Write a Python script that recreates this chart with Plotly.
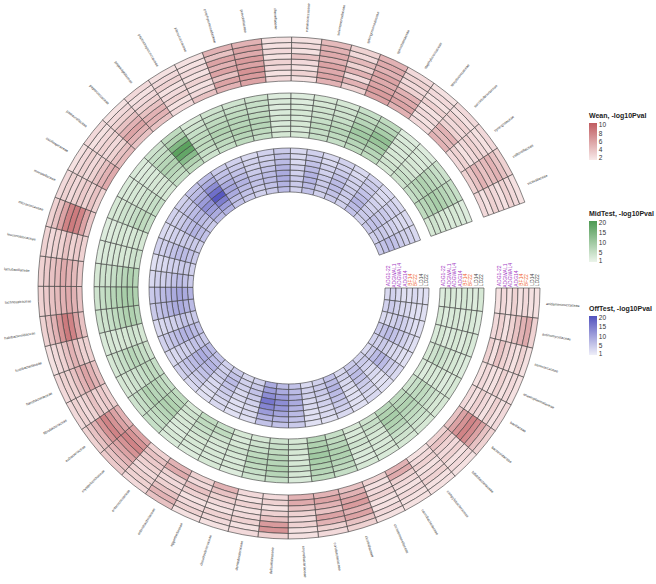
import math
import plotly.graph_objects as go

# ---------------- data ----------------
families = [
    "acidaminococcaceae", "actinomycetaceae", "aerococcaceae", "anaeroplasmataceae",
    "bacillaceae", "bacteroidaceae", "bifidobacteriaceae", "campylobacteraceae",
    "carnobacteriaceae", "christensenellaceae", "clostridiaceae", "coriobacteriaceae",
    "corynebacteriaceae", "defluviitaleaceae", "dermabacteraceae", "desulfovibrionaceae",
    "eggerthellaceae", "enterobacteriaceae", "enterococcaceae", "erysipelotrichaceae",
    "eubacteriaceae", "fibrobacteraceae", "flavobacteriaceae", "fusobacteriaceae",
    "halobacteroidaceae", "lachnospiraceae", "lactobacillaceae", "leuconostocaceae",
    "micrococcaceae", "moraxellaceae", "oscillospiraceae", "pasteurellaceae",
    "peptococcaceae", "peptoniphilaceae", "peptostreptococcaceae", "planococcaceae",
    "porphyromonadaceae", "prevotellaceae", "rikenellaceae", "ruminococcaceae",
    "selenomonadaceae", "sphingomonadaceae", "spirochaetaceae", "staphylococcaceae",
    "streptococcaceae", "succinivibrionaceae", "synergistaceae", "veillonellaceae",
    "victivallaceae",
]

# heatmap columns (ring rows), inner -> outer
traits = ["ADG1-22", "ADGWAL1", "ADGWAL4", "ADG14", "BF14", "BF22", "LD14", "LD22"]
trait_colors = ["#A43CC4", "#A43CC4", "#A43CC4", "#A43CC4",
                "#F0602A", "#F0602A", "#444444", "#444444"]

# -log10 P values, one list per family (inner -> outer)
wean = [
    [2, 2.5, 2, 3, 2, 2.5, 2, 2], [2.5, 3, 2, 3, 4, 5, 5.5, 3], [3, 2, 4, 3, 2.5, 2, 3, 2],
    [2, 2.5, 2, 2, 3, 2, 2.5, 2], [2.5, 2, 3, 2.5, 2, 3, 2, 2.5], [4, 6, 7, 8, 7.5, 6, 4, 3],
    [3, 4, 3, 2.5, 3, 2, 2.5, 2], [2, 2.5, 3, 2, 2.5, 3, 2, 2], [5, 5.5, 3, 2.5, 2, 2.5, 2, 2],
    [3, 2, 2.5, 3, 2, 2, 2.5, 2], [4, 5, 6, 6.5, 5, 6, 4, 3], [5, 6, 5, 4, 6, 5, 3, 2.5],
    [5, 5.5, 4, 3, 2.5, 3, 2, 2], [2.5, 3, 2, 3, 4, 6.5, 7, 3], [2.5, 2, 3, 2, 2.5, 3, 2, 2.5],
    [5, 4, 3, 2.5, 2, 3, 2.5, 2], [3, 2.5, 4, 3, 2, 2.5, 3, 2], [5, 5.5, 3, 2.5, 3, 4, 5, 4],
    [3, 4, 3.5, 3, 2.5, 3, 3, 2.5], [6, 7, 8, 7, 6, 5, 4, 3.5], [5, 6, 7, 8, 7, 5, 4, 3],
    [3, 3.5, 3, 4, 3, 2.5, 3, 2.5], [4, 5, 6, 5, 4, 3, 3, 2.5], [3, 3, 4, 5, 4, 3, 2.5, 2],
    [4, 6, 8, 8.5, 7, 5, 4, 3], [4, 5, 5.5, 5, 4.5, 4, 3.5, 3], [3.5, 4.5, 5, 5.5, 4.5, 4, 3.5, 3],
    [3, 3.5, 3, 4, 3, 3, 2.5, 3], [3.5, 6, 8, 8.5, 8, 6, 4, 3], [3, 4, 3, 3.5, 3, 2.5, 3, 2.5],
    [5.5, 5, 4, 3, 2.5, 3, 2.5, 2], [4.5, 4, 3, 2.5, 3, 2.5, 2, 2.5], [4, 5, 6, 5, 4, 3, 2.5, 2],
    [4, 5, 5, 4, 3, 2.5, 2, 2.5], [2.5, 2, 3, 2.5, 2, 3, 2.5, 2], [4, 2.5, 2, 3, 2, 2.5, 2, 2],
    [5, 6, 4, 6, 5, 6, 4, 5], [6, 6.5, 7, 6, 6.5, 5.5, 6, 5], [2.5, 2, 2.5, 3, 2, 2.5, 2, 2],
    [2, 3, 2, 2.5, 4, 2, 2.5, 2], [5, 6, 5.5, 6, 5, 5.5, 5, 4.5], [3, 5, 2.5, 5, 3, 4.5, 2.5, 3],
    [6, 6.5, 6, 5.5, 6, 5, 5.5, 5], [5, 6, 5.5, 5, 3, 2.5, 3, 2.5], [2.5, 2, 2.5, 2, 3, 2, 2.5, 2],
    [5, 4.5, 5, 3, 2.5, 3, 2, 2.5], [2.5, 3, 2, 2.5, 3, 2.5, 2, 2.5], [3, 4, 5, 4, 4.5, 5, 4, 3],
    [2.5, 2, 3, 2.5, 2, 3, 2.5, 2],
]

midtest = [
    [2, 3, 2.5, 2, 3, 2.5, 2, 3], [3, 2, 2.5, 3, 2, 3, 2.5, 2], [2.5, 3, 2, 2.5, 3, 2, 3, 2.5],
    [3, 4, 5, 4, 3, 3, 2.5, 2], [2.5, 2, 3, 2.5, 3, 2, 2.5, 3], [4, 5, 6, 6, 5, 4, 3, 3],
    [6, 7, 8, 7, 6, 5, 4, 3], [7, 8, 9, 8, 7, 5, 4, 3], [4, 5, 4, 3, 3, 2.5, 3, 2.5],
    [3, 2.5, 3, 4, 3, 2.5, 2, 3], [5, 6, 7, 8, 8, 7, 6, 5], [7, 8, 9, 10, 9, 8, 7, 6],
    [3, 4, 3, 2.5, 3, 4, 3, 2.5], [4, 5, 6, 7, 7, 8, 7, 5], [3, 4, 5, 6, 7, 6, 5, 4],
    [3, 2.5, 3, 4, 3, 2.5, 3, 2], [5, 6, 4, 3, 2.5, 3, 2.5, 3], [6, 6, 5, 4, 3, 3, 2.5, 2],
    [3, 4, 3, 3, 2.5, 2, 3, 2.5], [6, 7, 8, 8, 7, 6, 5, 5], [5, 6, 7, 7, 8, 6, 5, 4],
    [5, 6, 6, 5, 4, 4, 3, 3], [4, 5, 6, 7, 6, 5, 4, 3], [3, 3.5, 4, 3, 3, 2.5, 3, 2.5],
    [7, 8, 8, 7, 6, 5, 4, 4], [8, 9, 9, 8, 7, 6, 5, 4], [7, 8, 7, 6, 5, 4, 4, 3],
    [4, 4, 3, 3, 3, 2.5, 2.5, 2], [3, 3.5, 3, 2.5, 3, 2.5, 2, 2], [5, 6, 6, 5, 4, 4, 3, 3],
    [5, 5, 4, 4, 3, 3, 2.5, 2.5], [3, 3.5, 3, 3, 2.5, 2.5, 2, 2.5], [5, 6, 7, 8, 7, 6, 5, 4],
    [6, 8, 13, 18, 19, 14, 8, 6], [4, 5, 6, 6, 6, 5, 4, 3], [5, 6, 7, 8, 7, 6, 5, 4],
    [6, 7, 8, 7, 7, 6, 5, 4], [5, 6, 7, 7, 6, 5, 5, 4], [3, 3, 2.5, 3, 2.5, 2, 2.5, 2],
    [3, 2.5, 3, 2.5, 3, 2.5, 2, 2], [5, 5, 6, 5, 4, 4, 3, 3], [5, 6, 7, 6, 5, 4, 4, 3],
    [6, 7, 9, 10, 9, 7, 6, 5], [6, 7, 9, 11, 12, 9, 7, 6], [3, 4, 3, 3, 2.5, 3, 2.5, 2],
    [4, 5, 4, 3, 3, 2.5, 2.5, 2], [5, 6, 7, 8, 7, 6, 5, 4], [6, 7, 8, 9, 8, 7, 6, 5],
    [3, 4, 3, 3, 2.5, 3, 2.5, 2],
]

offtest = [
    [3, 4, 3, 2, 2, 3, 2, 2], [4, 5, 4, 3, 3, 2, 2, 2], [3, 3, 4, 5, 4, 3, 2, 2],
    [5, 6, 7, 6, 5, 4, 3, 2], [4, 4, 5, 4, 3, 3, 2, 2], [3, 5, 7, 8, 7, 5, 4, 3],
    [4, 5, 4, 3, 3, 2, 2, 2], [5, 6, 7, 6, 5, 4, 3, 3], [3, 4, 3, 3, 2, 2, 2, 2],
    [6, 7, 8, 7, 6, 5, 4, 3], [4, 5, 5, 4, 4, 3, 3, 2], [3, 4, 4, 3, 3, 2, 2, 2],
    [6, 7, 8, 9, 8, 7, 6, 5], [7, 9, 11, 13, 12, 10, 8, 6], [9, 11, 13, 16, 14, 11, 8, 6],
    [4, 5, 6, 5, 4, 3, 3, 2], [3, 4, 4, 3, 3, 2, 2, 2], [5, 6, 7, 6, 5, 4, 3, 3],
    [4, 4, 5, 4, 3, 3, 2, 2], [6, 7, 8, 7, 6, 5, 4, 3], [7, 8, 9, 8, 7, 6, 5, 4],
    [5, 6, 6, 5, 4, 4, 3, 3], [6, 7, 8, 8, 7, 6, 5, 4], [5, 5, 6, 5, 4, 4, 3, 3],
    [7, 8, 9, 9, 8, 7, 6, 5], [8, 9, 10, 9, 8, 7, 6, 5], [5, 6, 7, 6, 5, 4, 4, 3],
    [4, 5, 5, 4, 4, 3, 3, 2], [5, 6, 7, 7, 6, 5, 4, 4], [4, 5, 5, 5, 4, 4, 3, 3],
    [6, 7, 8, 7, 6, 5, 4, 4], [5, 6, 7, 8, 7, 6, 5, 4], [7, 9, 11, 13, 11, 9, 7, 6],
    [8, 11, 15, 20, 17, 13, 9, 7], [6, 7, 9, 10, 9, 7, 6, 5], [5, 6, 7, 8, 7, 6, 5, 4],
    [4, 5, 6, 6, 5, 4, 4, 3], [5, 6, 7, 7, 6, 5, 4, 4], [7, 8, 9, 9, 8, 7, 6, 5],
    [4, 5, 5, 4, 4, 3, 3, 3], [6, 7, 8, 8, 7, 6, 5, 4], [4, 5, 5, 5, 4, 4, 3, 3],
    [5, 6, 7, 7, 6, 5, 4, 4], [4, 4, 5, 5, 4, 4, 3, 3], [6, 7, 8, 7, 6, 5, 5, 4],
    [4, 5, 5, 4, 4, 3, 3, 3], [5, 6, 6, 5, 5, 4, 4, 3], [4, 5, 5, 4, 4, 3, 3, 3],
    [5, 6, 7, 6, 5, 4, 4, 3],
]

# legend ticks
wean_ticks = [2, 4, 6, 8, 10]
test_ticks = [1, 5, 10, 15, 20]

# ---------------- layout geometry ----------------
W_PX, H_PX = 656, 584
CX, CY, S = 289, 288, 288          # polar centre (px) and half size of the square domain
N = len(families)
GAP = 20.0
STEP = (360.0 - GAP) / N
NT = len(traits)

rings = [
    dict(name="Wean, -log10Pval", vals=wean, r0=207, r1=251,
         scale=[[0, "#F8E9E9"], [1, "#C05C60"]], cmin=1.5, cmax=10.5,
         ticks=wean_ticks, top=120, length=40),
    dict(name="MidTest, -log10Pval", vals=midtest, r0=151, r1=195,
         scale=[[0, "#EBF4EA"], [1, "#4E9A52"]], cmin=0.2, cmax=20.8,
         ticks=test_ticks, top=218, length=44),
    dict(name="OffTest, -log10Pval", vals=offtest, r0=96, r1=140,
         scale=[[0, "#EEEEF8"], [1, "#5252BE"]], cmin=0.2, cmax=20.8,
         ticks=test_ticks, top=313, length=42),
]

fig = go.Figure()
dom_x = [(CX - S) / W_PX, (CX + S) / W_PX]
dom_y = [1 - (CY + S) / H_PX, 1 - (CY - S) / H_PX]

for ring in rings:
    rh = (ring["r1"] - ring["r0"]) / NT
    th, base, rr, col = [], [], [], []
    for i, row in enumerate(ring["vals"]):
        for j, v in enumerate(row):
            th.append((i + 0.5) * STEP)
            base.append(ring["r0"] + j * rh)
            rr.append(rh)
            col.append(v)
    fig.add_trace(go.Barpolar(
        theta=th, r=rr, base=base, width=[STEP] * len(th),
        marker=dict(
            color=col, colorscale=ring["scale"], cmin=ring["cmin"], cmax=ring["cmax"],
            line=dict(color="#3a3a3a", width=0.6),
            colorbar=dict(
                title=dict(text="<b>" + ring["name"] + "</b>", side="top",
                           font=dict(size=7, color="#222", family="Liberation Sans, Arial")),
                x=589 / W_PX, xanchor="left", xpad=0,
                y=1 - (ring["top"] - 10) / H_PX, yanchor="top", ypad=0,
                len=ring["length"] + 10, lenmode="pixels",
                thickness=8, thicknessmode="pixels",
                outlinewidth=0, tickvals=ring["ticks"], ticks="",
                tickfont=dict(size=6.5, color="#333", family="Liberation Sans, Arial"),
            ),
        ),
        hoverinfo="skip",
    ))

# invisible anchor trace for the cartesian overlay used by text labels
fig.add_trace(go.Scatter(x=[0], y=[0], mode="markers", marker=dict(opacity=0),
                         showlegend=False, hoverinfo="skip"))

annotations = []
# family labels, radial
CW = 1.78
for i, name in enumerate(families):
    a = (i + 0.5) * STEP
    phi = -a
    L = len(name) * CW
    rc = 258 + L / 2
    x = rc * math.cos(math.radians(phi))
    y = rc * math.sin(math.radians(phi))
    ang = -phi
    if math.cos(math.radians(phi)) < 0:
        ang = -(phi + 180)
    ang = ((ang + 180) % 360) - 180
    annotations.append(dict(x=x, y=y, xref="x", yref="y", text=name, showarrow=False,
                            textangle=ang, xanchor="center", yanchor="middle",
                            font=dict(size=3.6, color="#333", family="Liberation Sans, Arial")))

# trait labels in the gap
for ring in rings:
    rh = (ring["r1"] - ring["r0"]) / NT
    for j, t in enumerate(traits):
        r = ring["r0"] + (j + 0.5) * rh
        L = len(t) * 3.0
        annotations.append(dict(x=r, y=2 + L / 2, xref="x", yref="y", text=t,
                                showarrow=False, textangle=-90,
                                xanchor="center", yanchor="middle",
                                font=dict(size=5, color=trait_colors[j],
                                          family="Liberation Sans, Arial")))

fig.update_layout(
    width=W_PX, height=H_PX, autosize=False,
    margin=dict(l=0, r=0, t=0, b=0, autoexpand=False),
    paper_bgcolor="white", plot_bgcolor="rgba(0,0,0,0)",
    showlegend=False,
    polar=dict(
        domain=dict(x=dom_x, y=dom_y),
        bgcolor="rgba(0,0,0,0)",
        barmode="overlay",
        radialaxis=dict(range=[0, S], visible=False, showgrid=False),
        angularaxis=dict(visible=False, rotation=0, direction="clockwise",
                         showgrid=False, thetaunit="degrees"),
    ),
    xaxis=dict(domain=dom_x, range=[-S, S], visible=False, fixedrange=True),
    yaxis=dict(domain=dom_y, range=[-S, S], visible=False, fixedrange=True),
    annotations=annotations,
)

fig.write_html(
    "out.html",
    config={"displayModeBar": False},
    post_script="document.body.style.margin='0';document.body.style.overflow='hidden';",
)
